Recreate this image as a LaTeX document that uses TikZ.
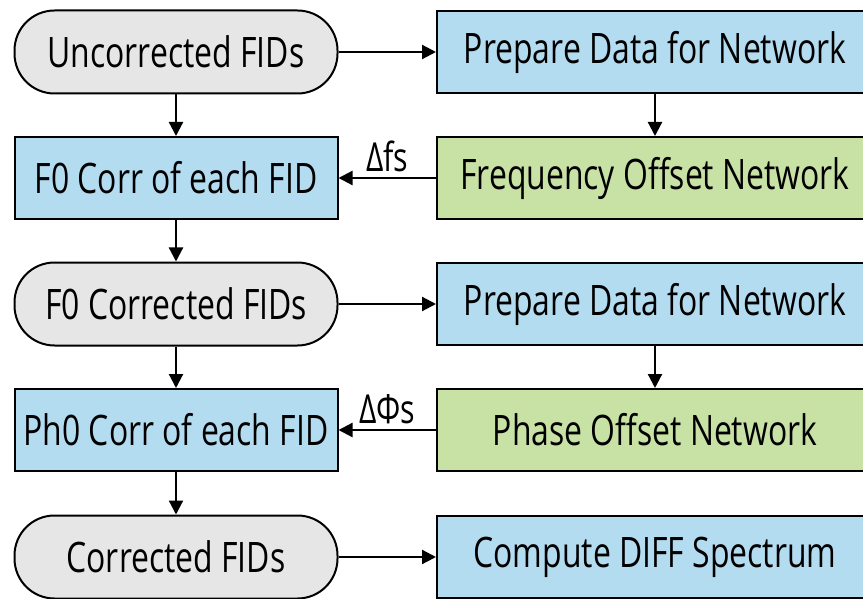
\documentclass[tikz,border=0pt]{standalone}
\usepackage{fontspec}
\setmainfont[FakeStretch=0.76]{Open Sans}
\usepackage{tikz}
\usetikzlibrary{arrows.meta,positioning}
\definecolor{fidblue}{HTML}{B4DCF1}
\definecolor{fidgreen}{HTML}{C8E1A5}
\definecolor{fidgray}{HTML}{E6E6E6}
\tikzset{
  fidRaw/.style={draw=black, fill=fidgray, line width=2pt, rounded corners=40pt,
    minimum width=323pt, minimum height=83pt, font=\fontsize{42}{46}\selectfont},
  fidCorr/.style={draw=black, fill=fidblue, line width=2pt,
    minimum width=323pt, minimum height=82pt, font=\fontsize{42}{46}\selectfont},
  fidPrep/.style={draw=black, fill=fidblue, line width=2pt,
    minimum width=436pt, minimum height=82pt, font=\fontsize{42}{46}\selectfont},
  fidNet/.style={draw=black, fill=fidgreen, line width=2pt,
    minimum width=436pt, minimum height=82pt, font=\fontsize{42}{46}\selectfont},
  %% arrows
  fidmsg/.style={-{Triangle[length=14pt,width=14pt]}, line width=2.2pt},
  fidlbl/.style={font=\fontsize{40}{44}\selectfont, inner sep=1pt},
}
\begin{document}
\begin{tikzpicture}[x=1pt, y=-1pt]
\useasboundingbox (0,0) rectangle (863,599);
\clip (0,0) rectangle (863,599);
%% left column
\node[fidRaw]  (nRaw)   at (176, 52) {Uncorrected FIDs};
\node[fidCorr] (nFcorr) at (176,178) {F0 Corr of each FID};
\node[fidRaw]  (nFdone) at (176,304) {F0 Corrected FIDs};
\node[fidCorr] (nPcorr) at (176,430) {Ph0 Corr of each FID};
\node[fidRaw]  (nDone)  at (176,557) {Corrected FIDs};
%% right column
\node[fidPrep] (nPrepA) at (655, 52) {Prepare Data for Network};
\node[fidNet]  (nFnet)  at (655,178) {Frequency Offset Network};
\node[fidPrep] (nPrepB) at (655,304) {Prepare Data for Network};
\node[fidNet]  (nPnet)  at (655,430) {Phase Offset Network};
\node[fidPrep] (nDiff)  at (655,557) {Compute DIFF Spectrum};

\draw[fidmsg] (nRaw) -- (nFcorr);
\draw[fidmsg] (nFcorr) -- (nFdone);
\draw[fidmsg] (nFdone) -- (nPcorr);
\draw[fidmsg] (nPcorr) -- (nDone);

\draw[fidmsg] (nPrepA) -- (nFnet);
\draw[fidmsg] (nPrepB) -- (nPnet);

\draw[fidmsg] (nRaw) -- (nPrepA);
\draw[fidmsg] (nFdone) -- (nPrepB);
\draw[fidmsg] (nDone) -- (nDiff);

\draw[fidmsg] (nFnet) -- node[fidlbl, above=4pt, pos=0.5]{Δfs} (nFcorr);
\draw[fidmsg] (nPnet) -- node[fidlbl, above=4pt, pos=0.5]{ΔΦs} (nPcorr);
\end{tikzpicture}
\end{document}
